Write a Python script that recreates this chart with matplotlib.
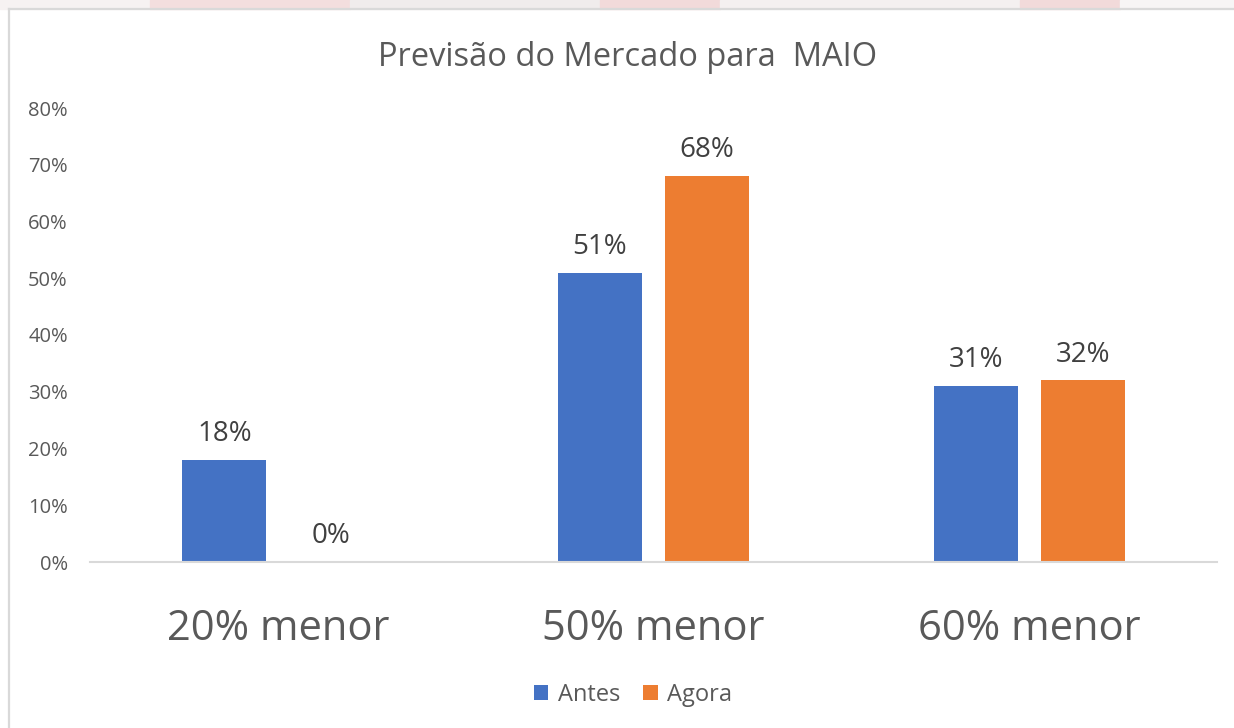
import matplotlib
matplotlib.use("Agg")
import matplotlib.pyplot as plt
from matplotlib.patches import Rectangle
from matplotlib.lines import Line2D
import numpy as np

categories = ["20% menor", "50% menor", "60% menor"]
antes = [0.18, 0.51, 0.31]
agora = [0.00, 0.68, 0.32]
series_names = ["Antes", "Agora"]
yticks = [0.0, 0.1, 0.2, 0.3, 0.4, 0.5, 0.6, 0.7, 0.8]
title = "Previsão do Mercado para  MAIO"

BLUE = "#4472C4"
ORANGE = "#ED7D31"
TXT = "#595959"
GRID = "#D9D9D9"

plt.rcParams["font.family"] = ["Open Sans", "DejaVu Sans"]

W, H = 1234, 728
fig = plt.figure(figsize=(W / 100, H / 100), dpi=100)
fig.patch.set_facecolor("white")

# faint decorative strip at the very top (background picture showing through)
strip = [(0, 150, "#F6F2F2"), (150, 200, "#F3DEDE"), (350, 250, "#F0ECEC"),
         (600, 120, "#F2DADA"), (720, 300, "#F4F0F0"), (1020, 100, "#F2DADA"),
         (1120, 114, "#F7F5F5")]
for x0, w, c in strip:
    fig.patches.append(Rectangle((x0 / W, 1 - 9 / H), w / W, 9 / H,
                                 transform=fig.transFigure, color=c, zorder=0))
# chart border
fig.add_artist(Line2D([9 / W, 9 / W], [0, 1 - 9 / H], transform=fig.transFigure,
                      color=GRID, lw=1.6))
fig.add_artist(Line2D([9 / W, 1], [1 - 9 / H, 1 - 9 / H], transform=fig.transFigure,
                      color=GRID, lw=1.6))

ax = fig.add_axes([90 / W, 1 - 562 / H, 1127 / W, (562 - 108) / H])
x = np.arange(len(categories))
bw = 0.224
off = 0.1425
b1 = ax.bar(x - off, antes, bw, color=BLUE, label=series_names[0], zorder=2)
b2 = ax.bar(x + off, agora, bw, color=ORANGE, label=series_names[1], zorder=2)

for bars, vals in ((b1, antes), (b2, agora)):
    for r, v in zip(bars, vals):
        ax.annotate(f"{round(v * 100):d}%", (r.get_x() + r.get_width() / 2, v),
                    xytext=(0, 13.5), textcoords="offset points",
                    ha="center", va="baseline", fontsize=20, color="#404040")

ax.set_xlim(-0.5, len(categories) - 0.5)
ax.set_ylim(0, 0.8)
ax.set_yticks(yticks)
ax.set_yticklabels([f"{int(round(t * 100))}%" for t in yticks])
ax.set_xticks(x)
ax.set_xticklabels(categories)
ax.tick_params(axis="y", length=0, pad=16, labelsize=14.5, labelcolor=TXT)
ax.tick_params(axis="x", length=0, pad=33, labelsize=30, labelcolor=TXT)
for s in ("top", "right", "left"):
    ax.spines[s].set_visible(False)
ax.spines["bottom"].set_color(GRID)
ax.spines["bottom"].set_linewidth(1.5)

fig.text(628 / W, 1 - 57 / H, title, ha="center", va="center",
         fontsize=23.5, color=TXT)

fig.legend(handles=[b1, b2], labels=series_names, loc="center",
           bbox_to_anchor=(633 / W, 1 - 695 / H), ncol=2, frameon=False,
           fontsize=17, labelcolor=TXT, handlelength=0.6, handleheight=0.6,
           handletextpad=0.4, columnspacing=1.0)

fig.savefig("out.png", dpi=100)
